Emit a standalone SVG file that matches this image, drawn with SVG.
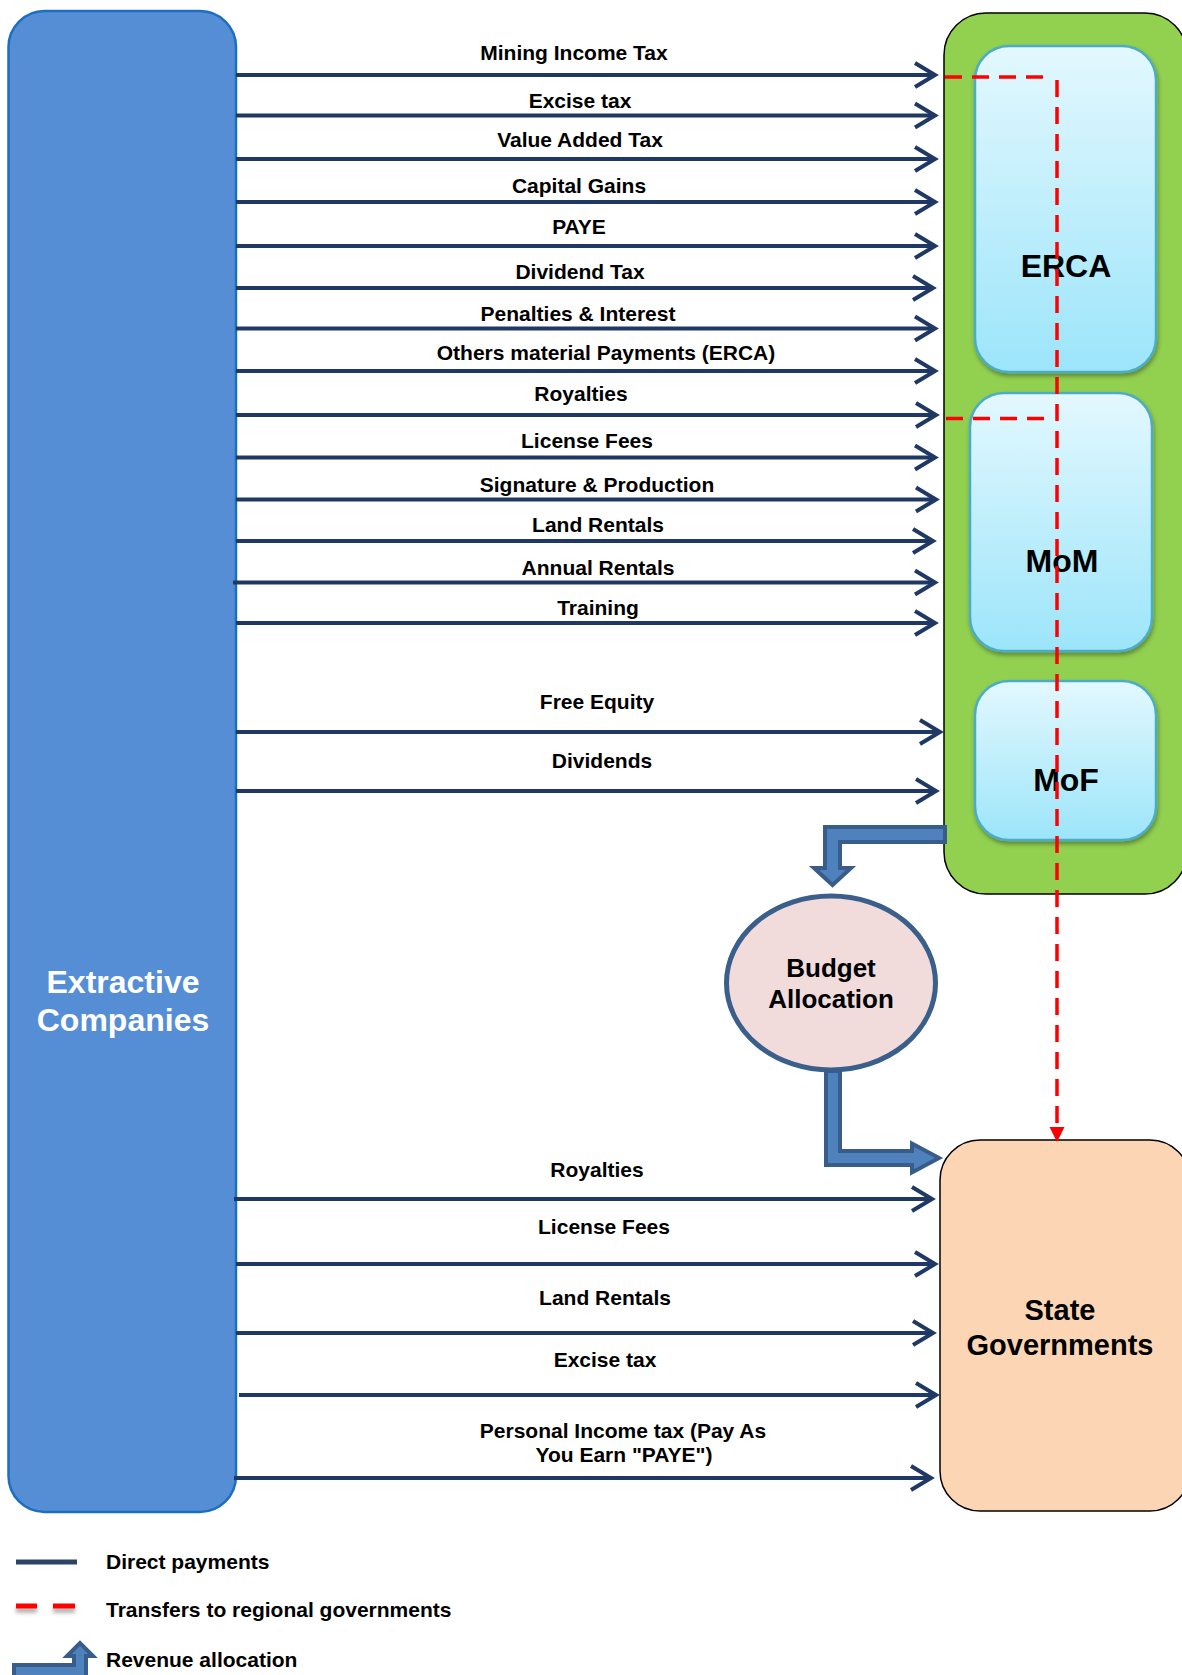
<svg xmlns="http://www.w3.org/2000/svg" width="1182" height="1675" viewBox="0 0 1182 1675">
<style>
  text { font-family: "Liberation Sans", Arial, sans-serif; font-weight: bold; fill: #000; }
  .lbl { font-size: 21px; text-anchor: middle; }
  .leg { font-size: 21px; }
  .pay { stroke: #1F3864; stroke-width: 4; fill: none; marker-end: url(#chev); }
  .red { stroke: #FF0000; stroke-width: 3.5; fill: none; stroke-dasharray: 17 10; }
  .agency { fill: url(#skyGrad); stroke: #4BACC6; stroke-width: 2.5; filter: url(#shadow); }
  .agencyTxt { font-size: 32px; text-anchor: middle; }
  .block { fill: #4F81BD; stroke: #385D8A; stroke-width: 4; stroke-linejoin: miter; }
</style>
<defs>
  <linearGradient id="skyGrad" x1="0" y1="0" x2="0" y2="1">
    <stop offset="0" stop-color="#E3F8FE"/>
    <stop offset="1" stop-color="#9CE5FA"/>
  </linearGradient>
  <filter id="shadow" x="-10%" y="-10%" width="130%" height="130%">
    <feDropShadow dx="1" dy="3" stdDeviation="2" flood-color="#000" flood-opacity="0.35"/>
  </filter>
  <filter id="dashShadow" filterUnits="userSpaceOnUse" x="0" y="1590" width="100" height="40">
    <feDropShadow dx="0" dy="4" stdDeviation="2" flood-color="#000" flood-opacity="0.35"/>
  </filter>
  <marker id="chev" markerUnits="userSpaceOnUse" markerWidth="28" markerHeight="32" viewBox="0 0 28 32" refX="22" refY="16" orient="auto">
    <path d="M2,4 L22,16 L2,28" fill="none" stroke="#1F3864" stroke-width="4"/>
  </marker>
</defs>

<g id="node-extractive">
  <rect x="8.5" y="11" width="227.5" height="1501" rx="36" ry="36" fill="#558ED5" stroke="#1C6FC0" stroke-width="2.5"/>
  <text x="123" y="993" font-size="32" text-anchor="middle" style="fill:#fff">Extractive</text>
  <text x="123" y="1031" font-size="32" text-anchor="middle" style="fill:#fff">Companies</text>
</g>

<g id="node-federal">
  <rect x="944" y="13" width="243" height="881" rx="42" ry="42" fill="#92D050" stroke="#000" stroke-width="1.5"/>
</g>
<g id="node-erca">
  <rect class="agency" x="975" y="46" width="181" height="326" rx="34" ry="34"/>
  <text class="agencyTxt" x="1066" y="277">ERCA</text>
</g>
<g id="node-mom">
  <rect class="agency" x="970" y="393" width="182" height="258" rx="34" ry="34"/>
  <text class="agencyTxt" x="1062" y="572">MoM</text>
</g>
<g id="node-mof">
  <rect class="agency" x="975" y="681" width="181" height="159" rx="34" ry="34"/>
  <text class="agencyTxt" x="1066" y="791">MoF</text>
</g>

<g id="node-budget">
  <ellipse cx="831" cy="983" rx="104.5" ry="87" fill="#F2DCDB" stroke="#3A5F8B" stroke-width="5"/>
  <text x="831" y="977" font-size="26" text-anchor="middle">Budget</text>
  <text x="831" y="1008" font-size="26" text-anchor="middle">Allocation</text>
</g>

<g id="node-state">
  <rect x="940" y="1140" width="250" height="371" rx="40" ry="40" fill="#FCD5B5" stroke="#000" stroke-width="1.5"/>
  <text x="1060" y="1320" font-size="29" text-anchor="middle">State</text>
  <text x="1060" y="1355" font-size="29" text-anchor="middle">Governments</text>
</g>

<g id="connectors">
  <line class="pay" x1="236" y1="75" x2="935" y2="75"/>
  <line class="pay" x1="236" y1="115.5" x2="935" y2="115.5"/>
  <line class="pay" x1="236" y1="159" x2="935" y2="159"/>
  <line class="pay" x1="236" y1="202" x2="935" y2="202"/>
  <line class="pay" x1="236" y1="246" x2="935" y2="246"/>
  <line class="pay" x1="236" y1="288" x2="933" y2="288"/>
  <line class="pay" x1="236" y1="328.5" x2="935" y2="328.5"/>
  <line class="pay" x1="236" y1="371" x2="935" y2="371"/>
  <line class="pay" x1="236" y1="415" x2="936" y2="415"/>
  <line class="pay" x1="236" y1="457.5" x2="935" y2="457.5"/>
  <line class="pay" x1="236" y1="499.5" x2="936" y2="499.5"/>
  <line class="pay" x1="236" y1="541" x2="933" y2="541"/>
  <line class="pay" x1="233" y1="582.5" x2="935" y2="582.5"/>
  <line class="pay" x1="236" y1="623" x2="935" y2="623"/>
  <line class="pay" x1="236" y1="732" x2="940" y2="732"/>
  <line class="pay" x1="236" y1="791" x2="936" y2="791"/>
  <line class="pay" x1="234" y1="1199" x2="932" y2="1199"/>
  <line class="pay" x1="236" y1="1264" x2="935" y2="1264"/>
  <line class="pay" x1="236" y1="1333" x2="933" y2="1333"/>
  <line class="pay" x1="239" y1="1395" x2="936" y2="1395"/>
  <line class="pay" x1="234" y1="1478" x2="931" y2="1478"/>

  <path class="red" d="M945,77 H1045"/>
  <path class="red" d="M946,418.5 H1047"/>
  <path class="red" d="M1057,80 V1128"/>
  <path d="M1049.5,1127 L1064.5,1127 L1057,1142 Z" fill="#FF0000"/>

  <path class="block" d="M945,827 L825,827 L825,868 L814,868 L832.5,885 L851,868 L840,868 L840,842 L945,842 Z"/>
  <path class="block" d="M826,1071 L840,1071 L840,1151 L912,1151 L912,1143.5 L939,1158 L912,1172.5 L912,1165 L826,1165 Z"/>
</g>

<g id="connector-labels">
  <text class="lbl" x="574" y="60">Mining Income Tax</text>
  <text class="lbl" x="580" y="108">Excise tax</text>
  <text class="lbl" x="580" y="147">Value Added Tax</text>
  <text class="lbl" x="579" y="193">Capital Gains</text>
  <text class="lbl" x="579" y="234">PAYE</text>
  <text class="lbl" x="580" y="279">Dividend Tax</text>
  <text class="lbl" x="578" y="321">Penalties &amp; Interest</text>
  <text class="lbl" x="606" y="360">Others material Payments (ERCA)</text>
  <text class="lbl" x="581" y="401">Royalties</text>
  <text class="lbl" x="587" y="448">License Fees</text>
  <text class="lbl" x="597" y="492">Signature &amp; Production</text>
  <text class="lbl" x="598" y="532">Land Rentals</text>
  <text class="lbl" x="598" y="575">Annual Rentals</text>
  <text class="lbl" x="598" y="615">Training</text>
  <text class="lbl" x="597" y="709">Free Equity</text>
  <text class="lbl" x="602" y="768">Dividends</text>
  <text class="lbl" x="597" y="1177">Royalties</text>
  <text class="lbl" x="604" y="1234">License Fees</text>
  <text class="lbl" x="605" y="1305">Land Rentals</text>
  <text class="lbl" x="605" y="1367">Excise tax</text>
  <text class="lbl" x="623" y="1438">Personal Income tax (Pay As</text>
  <text class="lbl" x="624" y="1462">You Earn "PAYE")</text>
</g>

<g id="legend">
  <line x1="16" y1="1562" x2="77" y2="1562" stroke="#2B4466" stroke-width="5"/>
  <text class="leg" x="106" y="1569">Direct payments</text>
  <g filter="url(#dashShadow)">
    <rect x="16" y="1603.5" width="21" height="5" fill="#FF0000"/>
    <rect x="53" y="1603.5" width="22" height="5" fill="#FF0000"/>
  </g>
  <text class="leg" x="106" y="1617">Transfers to regional governments</text>
  <path class="block" d="M14,1665 L74,1665 L74,1656 L67,1656 L80,1643 L93,1656 L86,1656 L86,1678 L14,1678 Z"/>
  <text class="leg" x="106" y="1667">Revenue allocation</text>
</g>
</svg>
